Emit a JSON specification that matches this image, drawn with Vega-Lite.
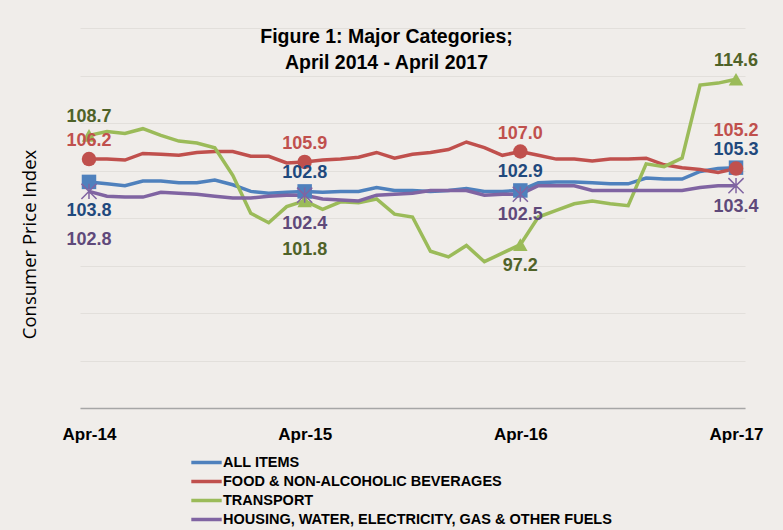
{
  "$schema": "https://vega.github.io/schema/vega-lite/v6.json",
  "width": 665,
  "height": 380,
  "autosize": {"type": "none"},
  "padding": {"left": 80, "top": 28, "right": 38, "bottom": 122},
  "background": "#F0EDEA",
  "config": {"view": {"stroke": null}, "font": "Liberation Sans"},
  "title": {
    "text": ["Figure 1: Major Categories;", "April 2014 - April 2017"],
    "font": "Liberation Sans",
    "fontSize": 19.5,
    "fontWeight": "bold",
    "color": "#000000",
    "anchor": "middle",
    "baseline": "top",
    "offset": -45,
    "lineHeight": 26,
    "dx": -26
  },
  "data": {
    "values": [
      {"month": "Apr-14", "all": 103.8, "food": 106.2, "transport": 108.7, "housing": 102.8},
      {"month": "May-14", "all": 103.6, "food": 106.2, "transport": 109.1, "housing": 102.3},
      {"month": "Jun-14", "all": 103.4, "food": 106.1, "transport": 108.9, "housing": 102.2},
      {"month": "Jul-14", "all": 103.9, "food": 106.8, "transport": 109.4, "housing": 102.2},
      {"month": "Aug-14", "all": 103.9, "food": 106.7, "transport": 108.7, "housing": 102.7},
      {"month": "Sep-14", "all": 103.7, "food": 106.6, "transport": 108.1, "housing": 102.6},
      {"month": "Oct-14", "all": 103.7, "food": 106.9, "transport": 107.9, "housing": 102.5},
      {"month": "Nov-14", "all": 104.0, "food": 107.0, "transport": 107.4, "housing": 102.3},
      {"month": "Dec-14", "all": 103.5, "food": 107.0, "transport": 104.5, "housing": 102.1},
      {"month": "Jan-15", "all": 102.8, "food": 106.5, "transport": 100.5, "housing": 102.1},
      {"month": "Feb-15", "all": 102.6, "food": 106.5, "transport": 99.5, "housing": 102.3},
      {"month": "Mar-15", "all": 102.7, "food": 105.8, "transport": 101.2, "housing": 102.4},
      {"month": "Apr-15", "all": 102.8, "food": 105.9, "transport": 101.8, "housing": 102.4},
      {"month": "May-15", "all": 102.7, "food": 106.1, "transport": 100.9, "housing": 102.0},
      {"month": "Jun-15", "all": 102.8, "food": 106.2, "transport": 101.7, "housing": 101.9},
      {"month": "Jul-15", "all": 102.8, "food": 106.4, "transport": 101.6, "housing": 101.8},
      {"month": "Aug-15", "all": 103.2, "food": 106.9, "transport": 102.0, "housing": 102.4},
      {"month": "Sep-15", "all": 102.9, "food": 106.3, "transport": 100.4, "housing": 102.5},
      {"month": "Oct-15", "all": 102.9, "food": 106.7, "transport": 100.1, "housing": 102.6},
      {"month": "Nov-15", "all": 102.8, "food": 106.9, "transport": 96.5, "housing": 102.9},
      {"month": "Dec-15", "all": 102.9, "food": 107.2, "transport": 95.9, "housing": 102.9},
      {"month": "Jan-16", "all": 103.1, "food": 108.0, "transport": 97.1, "housing": 102.9},
      {"month": "Feb-16", "all": 102.8, "food": 107.4, "transport": 95.4, "housing": 102.4},
      {"month": "Mar-16", "all": 102.8, "food": 106.6, "transport": 96.3, "housing": 102.5},
      {"month": "Apr-16", "all": 102.9, "food": 107.0, "transport": 97.2, "housing": 102.5},
      {"month": "May-16", "all": 103.7, "food": 106.6, "transport": 100.1, "housing": 103.4},
      {"month": "Jun-16", "all": 103.8, "food": 106.2, "transport": 100.8, "housing": 103.4},
      {"month": "Jul-16", "all": 103.8, "food": 106.2, "transport": 101.5, "housing": 103.4},
      {"month": "Aug-16", "all": 103.7, "food": 106.0, "transport": 101.8, "housing": 102.9},
      {"month": "Sep-16", "all": 103.6, "food": 106.2, "transport": 101.5, "housing": 102.9},
      {"month": "Oct-16", "all": 103.6, "food": 106.2, "transport": 101.3, "housing": 102.9},
      {"month": "Nov-16", "all": 104.2, "food": 106.3, "transport": 105.7, "housing": 102.9},
      {"month": "Dec-16", "all": 104.1, "food": 105.6, "transport": 105.4, "housing": 102.9},
      {"month": "Jan-17", "all": 104.1, "food": 105.3, "transport": 106.3, "housing": 102.9},
      {"month": "Feb-17", "all": 104.9, "food": 105.1, "transport": 114.0, "housing": 103.2},
      {"month": "Mar-17", "all": 105.2, "food": 104.8, "transport": 114.2, "housing": 103.4},
      {"month": "Apr-17", "all": 105.3, "food": 105.2, "transport": 114.6, "housing": 103.4}
    ]
  },
  "transform": [{"fold": ["all", "food", "transport", "housing"], "as": ["series", "value"]}],
  "encoding": {
    "x": {
      "field": "month",
      "type": "ordinal",
      "scale": {
        "type": "point",
        "padding": 0.5,
        "domain": ["Apr-14","May-14","Jun-14","Jul-14","Aug-14","Sep-14","Oct-14","Nov-14","Dec-14","Jan-15","Feb-15","Mar-15","Apr-15","May-15","Jun-15","Jul-15","Aug-15","Sep-15","Oct-15","Nov-15","Dec-15","Jan-16","Feb-16","Mar-16","Apr-16","May-16","Jun-16","Jul-16","Aug-16","Sep-16","Oct-16","Nov-16","Dec-16","Jan-17","Feb-17","Mar-17","Apr-17"]
      },
      "axis": {
        "values": ["Apr-14", "Apr-15", "Apr-16", "Apr-17"],
        "labelAngle": 0,
        "ticks": false,
        "grid": false,
        "domainColor": "#A6A6A6",
        "domainWidth": 1.5,
        "labelFont": "Liberation Sans",
        "labelFontSize": 17,
        "labelFontWeight": "bold",
        "labelColor": "#000000",
        "labelPadding": 18,
        "title": null
      }
    },
    "y": {
      "field": "value",
      "type": "quantitative",
      "scale": {"domain": [80, 120], "nice": false, "zero": false},
      "axis": {
        "values": [80, 85, 90, 95, 100, 105, 110, 115, 120],
        "labels": false,
        "ticks": false,
        "domain": false,
        "grid": true,
        "gridColor": "#E2DFDB",
        "gridWidth": 1,
        "title": "Consumer Price Index",
        "titleFont": "Open Sans",
        "titleFontWeight": "normal",
        "titleFontSize": 18.5,
        "titleColor": "#000000",
        "titleX": -41,
        "titleY": 216
      }
    }
  },
  "layer": [
    {
      "mark": {"type": "line", "strokeWidth": 3.5},
      "encoding": {
        "color": {
          "field": "series",
          "type": "nominal",
          "scale": {"domain": ["all", "food", "transport", "housing"], "range": ["#4F81BD", "#C0504D", "#9BBB59", "#8064A2"]},
          "legend": {
            "orient": "none",
            "legendX": 115,
            "legendY": 423,
            "title": null,
            "symbolType": "M-1.6,0L1.6,0",
            "symbolStrokeWidth": 3.5,
            "symbolSize": 361,
            "labelFont": "Liberation Sans",
            "labelFontSize": 14.5,
            "labelFontWeight": "bold",
            "labelColor": "#000000",
            "labelOffset": 5,
            "labelLimit": 600,
            "rowPadding": 0,
            "labelExpr": "{'all': 'ALL ITEMS', 'food': 'FOOD & NON-ALCOHOLIC BEVERAGES', 'transport': 'TRANSPORT', 'housing': 'HOUSING, WATER, ELECTRICITY, GAS & OTHER FUELS'}[datum.label]"
          }
        }
      }
    },
    {
      "transform": [
        {"filter": {"field": "month", "oneOf": ["Apr-14", "Apr-15", "Apr-16", "Apr-17"]}},
        {"filter": "datum.series != 'housing'"}
      ],
      "mark": {"type": "point", "filled": true, "opacity": 1, "size": 210},
      "encoding": {
        "shape": {"field": "series", "type": "nominal", "scale": {"domain": ["all", "food", "transport"], "range": ["square", "circle", "triangle-up"]}, "legend": null},
        "color": {"field": "series", "type": "nominal", "scale": {"domain": ["all", "food", "transport"], "range": ["#4F81BD", "#C0504D", "#9BBB59"]}, "legend": null}
      }
    },
    {
      "transform": [
        {"filter": {"field": "month", "oneOf": ["Apr-14", "Apr-15", "Apr-16", "Apr-17"]}},
        {"filter": "datum.series == 'housing'"}
      ],
      "mark": {"type": "point", "shape": "M-1,-1L1,1M-1,1L1,-1M0,-1L0,1", "filled": false, "size": 230, "strokeWidth": 1.5, "color": "#8064A2", "opacity": 1}
    },
    {
      "transform": [{"filter": "(datum.month == 'Apr-14' && (datum.series == 'transport' || datum.series == 'food')) || (datum.month == 'Apr-15' && (datum.series == 'food' || datum.series == 'all')) || (datum.month == 'Apr-16' && (datum.series == 'food' || datum.series == 'all')) || (datum.month == 'Apr-17' && (datum.series == 'transport' || datum.series == 'all'))"}],
      "mark": {"type": "text", "dy": -18, "fontSize": 18, "fontWeight": "bold", "font": "Liberation Sans"},
      "encoding": {
        "text": {"field": "value", "type": "quantitative", "format": ".1f"},
        "color": {"field": "series", "type": "nominal", "scale": {"domain": ["all", "food", "transport", "housing"], "range": ["#1F497D", "#C0504D", "#4F6228", "#5F497A"]}, "legend": null}
      }
    },
    {
      "transform": [{"filter": "datum.month == 'Apr-17' && datum.series == 'food'"}],
      "mark": {"type": "text", "dy": -38, "fontSize": 18, "fontWeight": "bold", "font": "Liberation Sans"},
      "encoding": {
        "text": {"field": "value", "type": "quantitative", "format": ".1f"},
        "color": {"field": "series", "type": "nominal", "scale": {"domain": ["all", "food", "transport", "housing"], "range": ["#1F497D", "#C0504D", "#4F6228", "#5F497A"]}, "legend": null}
      }
    },
    {
      "transform": [{"filter": "(datum.month == 'Apr-16' && (datum.series == 'housing' || datum.series == 'transport')) || (datum.month == 'Apr-17' && datum.series == 'housing')"}],
      "mark": {"type": "text", "dy": 21, "fontSize": 18, "fontWeight": "bold", "font": "Liberation Sans"},
      "encoding": {
        "text": {"field": "value", "type": "quantitative", "format": ".1f"},
        "color": {"field": "series", "type": "nominal", "scale": {"domain": ["all", "food", "transport", "housing"], "range": ["#1F497D", "#C0504D", "#4F6228", "#5F497A"]}, "legend": null}
      }
    },
    {
      "transform": [{"filter": "(datum.month == 'Apr-14' && datum.series == 'all') || (datum.month == 'Apr-15' && datum.series == 'housing')"}],
      "mark": {"type": "text", "dy": 29, "fontSize": 18, "fontWeight": "bold", "font": "Liberation Sans"},
      "encoding": {
        "text": {"field": "value", "type": "quantitative", "format": ".1f"},
        "color": {"field": "series", "type": "nominal", "scale": {"domain": ["all", "food", "transport", "housing"], "range": ["#1F497D", "#C0504D", "#4F6228", "#5F497A"]}, "legend": null}
      }
    },
    {
      "transform": [{"filter": "(datum.month == 'Apr-14' && datum.series == 'housing') || (datum.month == 'Apr-15' && datum.series == 'transport')"}],
      "mark": {"type": "text", "dy": 49, "fontSize": 18, "fontWeight": "bold", "font": "Liberation Sans"},
      "encoding": {
        "text": {"field": "value", "type": "quantitative", "format": ".1f"},
        "color": {"field": "series", "type": "nominal", "scale": {"domain": ["all", "food", "transport", "housing"], "range": ["#1F497D", "#C0504D", "#4F6228", "#5F497A"]}, "legend": null}
      }
    }
  ],
  "resolve": {"scale": {"color": "independent", "shape": "independent"}}
}
